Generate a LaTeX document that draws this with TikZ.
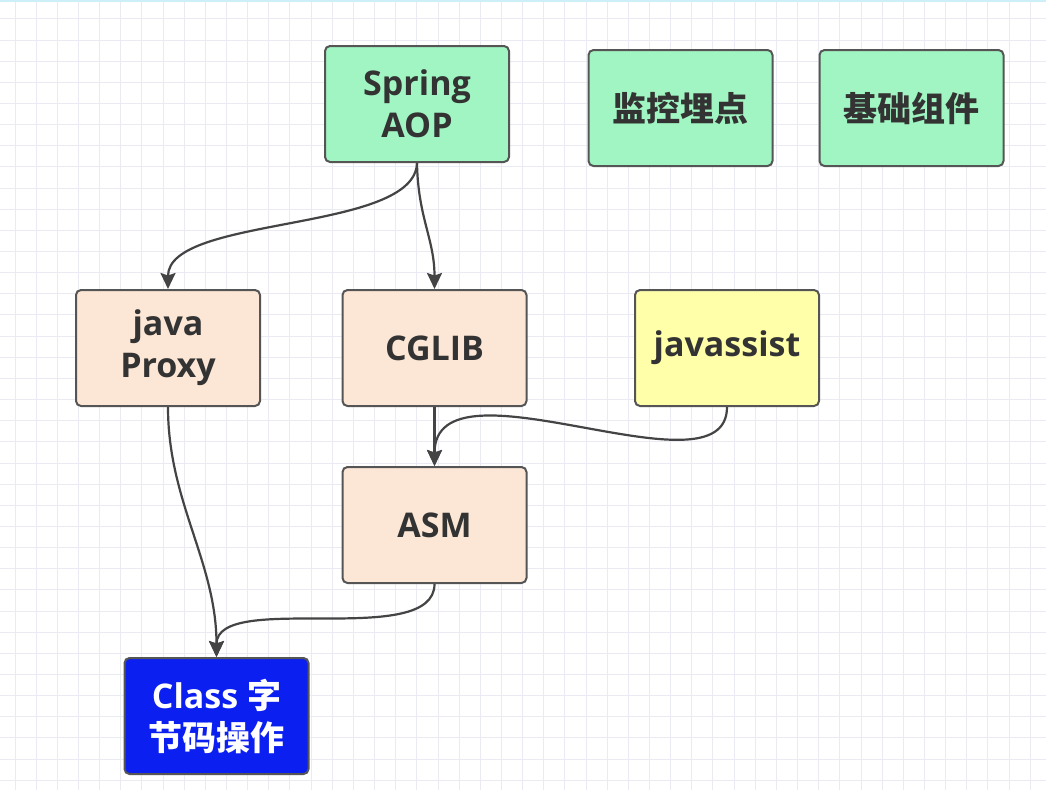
\documentclass[tikz,border=0pt]{standalone}
\usepackage{fontspec}
\setmainfont{Open Sans}
\newfontfamily\cjk{Noto Sans CJK SC}
\usetikzlibrary{arrows.meta}
\definecolor{gridc}{HTML}{EAEAF2}
\definecolor{topc}{HTML}{CDEFF7}
\definecolor{greenc}{HTML}{A0F5C2}
\definecolor{peachc}{HTML}{FCE7D6}
\definecolor{yellowc}{HTML}{FFFFAA}
\definecolor{bluec}{HTML}{0B1FF0}
\definecolor{borderc}{HTML}{555555}
\definecolor{textc}{HTML}{333333}
\definecolor{edgec}{HTML}{444444}
\tikzset{
  box/.style={draw=borderc, line width=2pt, rounded corners=5pt,
    minimum width=184pt, minimum height=116pt, align=center,
    inner sep=0pt, text=textc,
    font=\fontsize{34}{42}\selectfont\bfseries},
  greenbox/.style={box, fill=greenc},
  peachbox/.style={box, fill=peachc},
  yellowbox/.style={box, fill=yellowc},
  bluebox/.style={box, fill=bluec, text=white},
  conn/.style={draw=edgec, line width=2.2pt,
    -{Stealth[length=16pt, width=15pt, inset=2.5pt]}}
}
\begin{document}
\begin{tikzpicture}[x=1pt, y=-1pt]
\useasboundingbox (0,0) rectangle (1046,790);
\fill[white] (0,0) rectangle (1046,790);
\foreach \i in {0,...,49} \draw[gridc, line width=1pt] ({15+\i*21.15},0) -- ++(0,790);
\foreach \j in {-1,...,36} \draw[gridc, line width=1pt] (0,{40+\j*21.15}) -- ++(1046,0);
\draw[topc, line width=2pt] (0,1) -- (1046,1);

\node[greenbox] (spring) at (417,104) {Spring\\AOP};
\node[greenbox] (monitor) at (680.5,108) {\cjk 监控埋点};
\node[greenbox] (basic) at (911.5,108) {\cjk 基础组件};
\node[peachbox] (proxy) at (168,348) {java\\Proxy};
\node[peachbox] (cglib) at (434.5,348) {CGLIB};
\node[yellowbox] (javassist) at (727,348) {javassist};
\node[peachbox] (asm) at (434.5,525) {ASM};
\node[bluebox] (class) at (216.5,716) {Class {\cjk 字}\\{\cjk 节码操作}};

\draw[conn] (spring.south) .. controls ++(-2,70) and ++(0,-74) .. (proxy.north);
\draw[conn] (spring.south) .. controls ++(1,55) and ++(0,-50) .. (cglib.north);
\draw[conn] (cglib.south) -- (asm.north);
\draw[conn] (javassist.south) .. controls ++(0,95) and ++(0,-116) .. (asm.north);
\draw[conn] (proxy.south) .. controls ++(0,95) and ++(0,-95) .. (class.north);
\draw[conn] (asm.south) .. controls ++(0,66) and ++(0,-67) .. (class.north);
\end{tikzpicture}
\end{document}
